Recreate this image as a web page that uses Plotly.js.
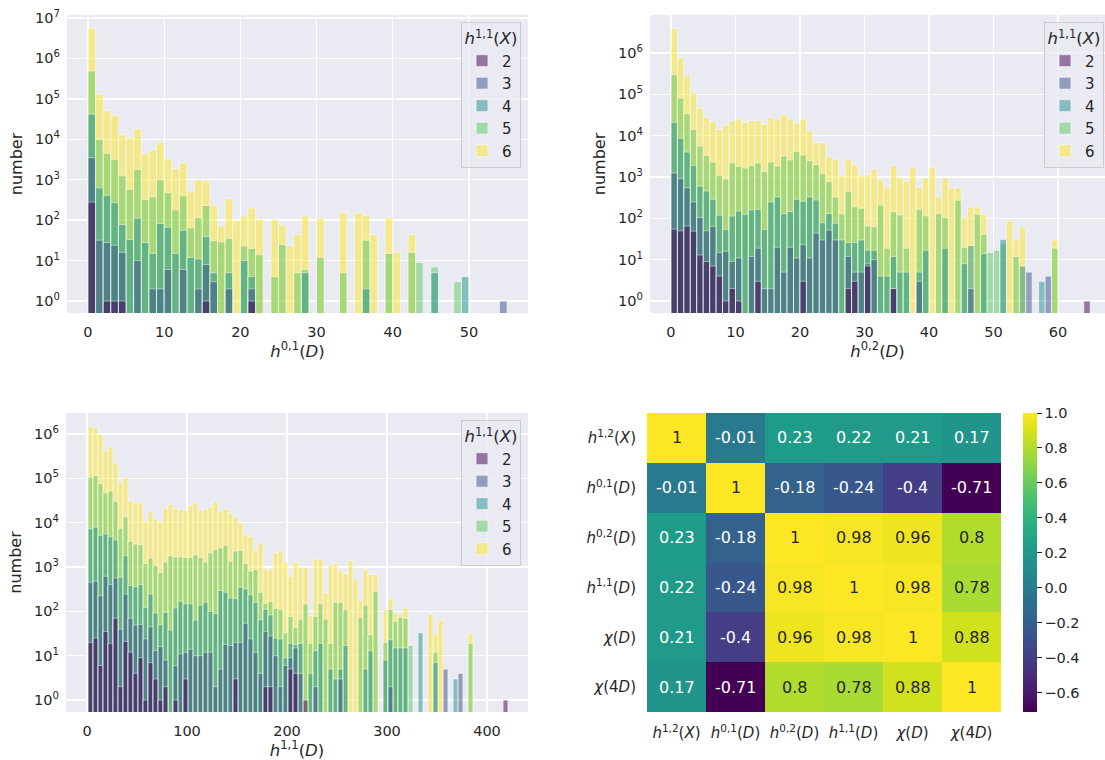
<!DOCTYPE html>
<html><head><meta charset="utf-8">
<script src="https://cdn.plot.ly/plotly-3.0.1.min.js"></script>
<style>html,body{margin:0;padding:0;background:#fff}</style>
</head><body><div id="chart" style="width:1105px;height:760px"></div>
<script>
// hue levels h^{1,1}(X)
const hueLevels = ['2','3','4','5','6'];
const hueColors = ['#440154','#3b528b','#21918c','#5ec962','#fde725'];

// ---------- Panel 1: h^{0,1}(D), bin width 1 ----------
const h01Edges = [0,1,2,3,4,5,6,7,8,9,10,11,12,13,14,15,16,17,18,19,20,21,22,23,24,25,26,27,28,29,30,31,32,33,34,35,36,37,38,39,40,41,42,43,44,45,46,47,48,49,50,51,52,53,54];
const h01_hue2 = [280,0,1,1,1,0,0,0,0,0,0,0,0,0,0,1,0,0,0,0,0,1,0,0,0,0,0,0,0,0,0,0,0,0,0,0,0,0,0,0,0,0,0,0,0,0,0,0,0,0,0,0,0,0,0];
const h01_hue3 = [3500,32,28,24,16,0,10,0,2,2,6,0,6,0,2,8,3,0,2,0,0,2,0,0,0,0,0,0,0,0,0,0,0,0,0,0,0,0,0,0,0,0,0,0,0,0,0,0,0,0,0,0,0,0,1];
const h01_hue4 = [42000,630,410,270,78,33,112,28,15,83,67,15,56,12,11,39,5,0,5,0,10,4,0,0,0,0,0,0,5,0,0,0,0,0,0,0,2,0,0,0,0,0,0,0,0,5,0,0,0,4,0,0,0,0,0];
const h01_hue5 = [490000,10000,4500,3200,1250,580,1800,320,380,1000,480,180,400,65,115,230,31,29,35,0,23,20,14,0,4,25,0,5,6,0,12,0,0,5,0,0,32,0,0,15,0,0,16,9,0,7,0,0,3,0,0,0,0,0,0];
const h01_hue6 = [5600000,130000,51000,39000,13000,10700,18000,4400,5400,8300,3300,1900,2600,500,1000,940,230,72,340,98,126,200,105,0,105,75,23,44,126,0,114,0,0,150,0,150,133,44,0,114,16,0,44,0,0,0,0,0,0,0,0,0,0,0,0];

// ---------- Panel 2: h^{0,2}(D), bin width 1 ----------
const h02Edges = [0,1,2,3,4,5,6,7,8,9,10,11,12,13,14,15,16,17,18,19,20,21,22,23,24,25,26,27,28,29,30,31,32,33,34,35,36,37,38,39,40,41,42,43,44,45,46,47,48,49,50,51,52,53,54,55,56,57,58,59,60,61,62,63,64];
const h02_hue2 = [55,50,65,49,13,9,7,4,1,2,1,0,0,3,0,0,0,0,0,0,3,0,0,0,0,0,0,2,3,0,7,0,0,0,2,0,0,0,0,0,0,0,0,0,0,0,0,0,0,0,0,0,0,0,0,0,0,0,0,0,0,0,0,0,1];
const h02_hue3 = [1250,910,550,250,105,50,64,15,16,9,11,0,12,19,2,2,20,5,20,11,23,11,44,30,52,30,0,12,5,5,8,10,0,0,2,0,0,0,3,0,0,0,0,0,0,0,2,0,0,0,0,0,0,0,0,5,0,0,4,0,0,0,0,0,0];
const h02_hue4 = [21000,8700,4000,1900,600,460,290,120,54,114,150,125,160,165,54,250,330,130,145,290,260,330,280,78,130,76,30,26,26,30,17,17,4,4,12,5,5,0,5,17,0,0,19,0,0,8,22,0,14,0,0,31,0,0,7,0,0,3,0,0,0,0,0,0,0];
const h02_hue5 = [300000,81000,34000,14000,5600,3300,2300,1100,890,2200,1800,1650,1900,2200,1350,2300,1850,3200,2600,4100,3400,2500,2000,1200,780,330,130,450,190,175,66,63,210,19,145,120,19,0,165,115,0,130,105,0,275,20,0,126,41,15,17,25,0,12,0,0,0,0,0,19,0,0,0,0,0];
const h02_hue6 = [3900000,760000,280000,110000,46000,28000,22000,14000,18000,23000,25000,21000,23000,23000,19000,27000,24000,32000,25000,20000,25000,13000,6800,6800,3100,2700,1100,2700,1950,1070,1150,1550,850,550,1860,980,800,1700,560,930,1700,330,950,540,540,107,186,195,126,0,0,0,87,30,62,0,0,0,0,30,0,0,0,0,0];

// ---------- Panel 3: h^{1,1}(D), bin width 5 ----------
const h11Edges = [1,6,11,16,21,26,31,36,41,46,51,56,61,66,71,76,81,86,91,96,101,106,111,116,121,126,131,136,141,146,151,156,161,166,171,176,181,186,191,196,201,206,211,216,221,226,231,236,241,246,251,256,261,266,271,276,281,286,291,296,301,306,311,316,321,326,331,336,341,346,351,356,361,366,371,376,381,386,391,396,401,406,411,416];
const h11_hue2 = [20,25,6,35,19,70,2,21,12,4, 9,1,7,3,1,2,0,1,0,3, 0,0,0,0,0,0,0,0,0,3, 0,0,0,0,0,2,2,0,0,0, 5,4,0,1,0,0,0,0,0,0, 0,0,0,0,0,0,0,0,0,0, 0,0,0,0,0,0,0,0,0,0, 0,0,0,0,0,0,0,0,0,0, 0,0,0,1];
const h11_hue3 = [455,480,225,620,400,570,40,245,70,49, 51,24,45,13,16,8,0,6,11,12, 14,10,10,12,12,2,5,18,17,20, 20,54,24,12,4,35,28,10,2,6, 9,15,4,0,0,2,0,0,0,0, 3,0,0,0,0,0,0,0,0,0, 2,0,0,0,0,0,0,0,0,0, 0,5,0,0,4,0,0,0,0,0, 0,0,0,0];
const h11_hue4 = [7300,8000,5200,5600,4800,4100,590,1800,380,360, 400,123,245,92,50,95,38,120,170,148, 148,64,138,160,100,90,295,270,200,195, 350,320,235,160,65,112,83,25,24,9, 19,18,19,0,4,13,19,0,5,3, 5,17,0,0,0,5,13,0,0,8, 23,15,15,15,0,0,33,0,0,7, 0,0,0,3,0,0,0,0,0,0, 0,0,0,0];
const h11_hue5 = [107000,115000,76000,47000,52000,30000,7500,13500,3800,3300, 3200,1200,1600,1100,760,1300,1800,1700,1700,1650, 1650,1900,1650,1300,2100,2500,2700,3100,1350,2300, 2400,1200,810,880,270,150,170,117,110,33, 77,43,67,148,19,77,148,67,19,160, 160,110,0,0,73,138,30,280,0,20, 110,60,73,70,17,0,0,0,0,12, 0,0,0,0,0,0,19,0,0,0, 0,0,0,0];
const h11_hue6 = [1500000,1400000,980000,420000,520000,230000,79000,105000,31000,28000, 28000,10500,17500,12000,10500,21000,26000,21000,20000,19000, 24000,28000,19000,20000,22000,30000,18000,20000,16000,13000, 9800,5500,4900,2400,3500,910,880,2100,2400,1300, 620,1300,1000,1000,80,1500,1500,260,1100,1200, 810,700,1400,540,175,880,680,680,0,110, 196,95,87,123,0,0,0,0,87,30, 63,0,0,0,0,0,32,0,0,0, 0,0,0,0];

// ---------- Panel 4: correlation heatmap ----------
const corrLabels = ['<i>h</i><sup>1,2</sup>(<i>X</i>)','<i>h</i><sup>0,1</sup>(<i>D</i>)','<i>h</i><sup>0,2</sup>(<i>D</i>)','<i>h</i><sup>1,1</sup>(<i>D</i>)','<i>χ</i>(<i>D</i>)','<i>χ</i>(4<i>D</i>)'];
const corrRow1 = [1, -0.01, 0.23, 0.22, 0.21, 0.17];
const corrRow2 = [-0.01, 1, -0.18, -0.24, -0.4, -0.71];
const corrRow3 = [0.23, -0.18, 1, 0.98, 0.96, 0.8];
const corrRow4 = [0.22, -0.24, 0.98, 1, 0.98, 0.78];
const corrRow5 = [0.21, -0.4, 0.96, 0.98, 1, 0.88];
const corrRow6 = [0.17, -0.71, 0.8, 0.78, 0.88, 1];
const corr = [corrRow1, corrRow2, corrRow3, corrRow4, corrRow5, corrRow6];

const TXT = '#262626';
function histTraces(edges, series, binWidth, xa, ya, legendName) {
  const traces = [];
  for (let i = series.length - 1; i >= 0; i--) {
    traces.push({
      type: 'bar', x: edges, y: series[i].map(v => v > 0 ? v : null),
      width: binWidth, offset: 0, xaxis: xa, yaxis: ya,
      name: hueLevels[i], legend: legendName,
      marker: {color: hueColors[i], line: {color: 'white', width: 0.8}},
      opacity: 0.5
    });
  }
  return traces;
}

const data = [].concat(
  histTraces(h01Edges, [h01_hue2,h01_hue3,h01_hue4,h01_hue5,h01_hue6], 1, 'x', 'y', 'legend'),
  histTraces(h02Edges, [h02_hue2,h02_hue3,h02_hue4,h02_hue5,h02_hue6], 1, 'x2', 'y2', 'legend2'),
  histTraces(h11Edges, [h11_hue2,h11_hue3,h11_hue4,h11_hue5,h11_hue6], 5, 'x3', 'y3', 'legend3')
);
data.push({
  type: 'heatmap', z: corr, x: corrLabels, y: corrLabels, xaxis: 'x4', yaxis: 'y4',
  colorscale: 'Viridis', zmin: -0.71, zmax: 1, showscale: true, hoverinfo: 'z',
  colorbar: {
    x: 1023/1105, xanchor: 'left', xpad: 0, ypad: 0, thickness: 14,
    lenmode: 'pixels', len: 299, y: 1 - 712/760, yanchor: 'bottom',
    outlinewidth: 0, ticks: 'outside', ticklen: 5, tickwidth: 1, tickcolor: TXT,
    tickvals: [-0.6,-0.4,-0.2,0,0.2,0.4,0.6,0.8,1.0],
    ticktext: ['−0.6','−0.4','−0.2','0.0','0.2','0.4','0.6','0.8','1.0'],
    tickfont: {size: 14.5, color: TXT}
  }
});

const annotations = [];
corr.forEach((row, i) => row.forEach((v, j) => {
  annotations.push({x: corrLabels[j], y: corrLabels[i], xref: 'x4', yref: 'y4',
    text: String(v), showarrow: false,
    font: {size: 16, color: v > 0.5 ? TXT : 'white', family: 'DejaVu Sans, sans-serif'}});
}));

const pow = n => '10<sup>' + n + '</sup>';
function logAxis(dom, rng, maxPow) {
  const tv = [], tt = [];
  for (let p = 0; p <= maxPow; p++) { tv.push(Math.pow(10, p)); tt.push(pow(p)); }
  return {type: 'log', domain: dom, range: rng, tickvals: tv, ticktext: tt,
    showgrid: true, gridcolor: 'white', gridwidth: 1.3, zeroline: false, showline: false,
    ticks: '', tickfont: {size: 14.5, color: TXT}, ticklabelstandoff: 6, automargin: false,
    title: {text: 'number', font: {size: 16, color: TXT}, standoff: 8}};
}
function linAxis(dom, rng, tv, title) {
  return {domain: dom, range: rng, tickvals: tv, showgrid: true, gridcolor: 'white', gridwidth: 1.3,
    zeroline: false, showline: false, ticks: '', tickfont: {size: 14.5, color: TXT},
    ticklabelstandoff: 8, automargin: false,
    title: {text: title, font: {size: 16.5, color: TXT}, standoff: 4}};
}
function legendCfg(x, y) {
  return {x: x, y: y, xanchor: 'right', yanchor: 'top', xref: 'paper', yref: 'paper',
    bgcolor: 'rgba(234,234,242,0.8)', bordercolor: '#cccccc', borderwidth: 1,
    traceorder: 'reversed', font: {size: 15, color: TXT},
    title: {text: '<i>h</i><sup>1,1</sup>(<i>X</i>)', side: 'top center', font: {size: 16.5, color: TXT}}};
}

const topDom = [1 - 313/760, 1 - 15/760];
const botDom = [1 - 712/760, 1 - 413/760];
const layout = {
  width: 1105, height: 760, margin: {l: 0, r: 0, t: 0, b: 0},
  paper_bgcolor: 'white', plot_bgcolor: '#eaeaf2',
  font: {family: 'DejaVu Sans, sans-serif', color: TXT, size: 14},
  barmode: 'overlay', showlegend: true,
  xaxis: linAxis([67/1105, 528/1105], [-2.75, 57.75], [0,10,20,30,40,50], '<i>h</i><sup>0,1</sup>(<i>D</i>)'),
  yaxis: logAxis(topDom, [-0.297, 7.074], 7),
  xaxis2: linAxis([650/1105, 1], [-3.25, 67.29], [0,10,20,30,40,50,60], '<i>h</i><sup>0,2</sup>(<i>D</i>)'),
  yaxis2: logAxis(topDom, [-0.29, 6.919], 6),
  xaxis3: linAxis([66/1105, 528/1105], [-21, 441], [0,100,200,300,400], '<i>h</i><sup>1,1</sup>(<i>D</i>)'),
  yaxis3: logAxis(botDom, [-0.27, 6.474], 6),
  xaxis4: {domain: [647/1105, 1001/1105], anchor: 'y4', showgrid: false, zeroline: false, showline: false,
    ticks: '', tickfont: {size: 15, color: TXT}, ticklabelstandoff: 10, automargin: false},
  yaxis4: {domain: botDom, anchor: 'x4', autorange: 'reversed', showgrid: false, zeroline: false, showline: false,
    ticks: '', tickfont: {size: 15, color: TXT}, ticklabelstandoff: 10, automargin: false},
  legend: legendCfg(521/1105, 1 - 22/760),
  legend2: legendCfg(1104/1105, 1 - 22/760),
  legend3: legendCfg(521/1105, 1 - 420/760),
  annotations: annotations
};
layout.xaxis.anchor = 'y'; layout.yaxis.anchor = 'x';
layout.xaxis2.anchor = 'y2'; layout.yaxis2.anchor = 'x2';
layout.xaxis3.anchor = 'y3'; layout.yaxis3.anchor = 'x3';

Plotly.newPlot('chart', data, layout, {displayModeBar: false, staticPlot: true});
</script></body></html>
